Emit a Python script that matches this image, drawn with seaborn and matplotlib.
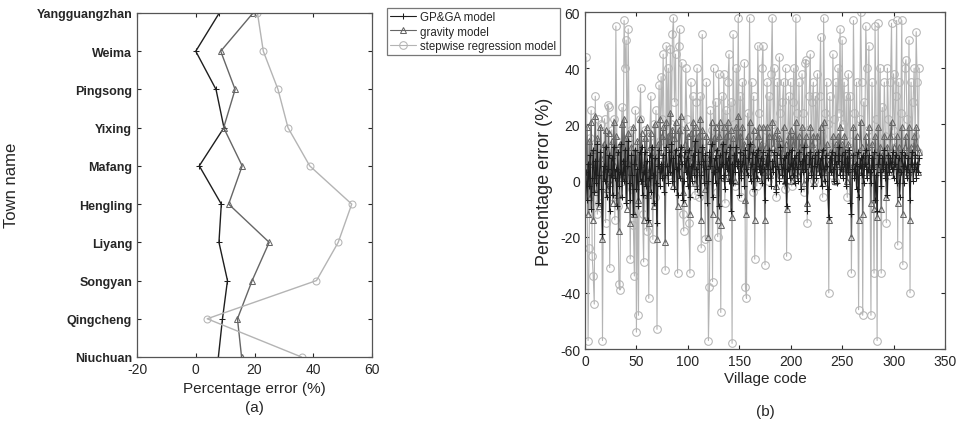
import numpy as np
import pandas as pd
import seaborn as sns
import matplotlib
matplotlib.use('Agg')
import matplotlib.pyplot as plt

# ---- panel (a): town level errors ----
towns = ['Yangguangzhan', 'Weima', 'Pingsong', 'Yixing', 'Mafang',
         'Hengling', 'Liyang', 'Songyan', 'Qingcheng', 'Niuchuan']
town_gpga = [8.0, 0.0, 6.9, 9.6, 1.2, 8.7, 7.9, 10.8, 9.1, 7.7]
town_gravity = [19.5, 8.5, 13.4, 9.5, 15.8, 11.2, 25.0, 19.2, 14.2, 15.6]
town_stepwise = [21.0, 23.0, 28.0, 31.4, 38.8, 53.1, 48.5, 41.1, 3.9, 36.0]

# ---- panel (b): village level errors ----
village_gpga = [
    3, -7, 6, -2, 9, -10, 1, 11, -4, 7, -1, 13, -8, 2, 10, -3, -19, 5, 0, 12, -6, 4, 9, -11, 2,
    8, -5, 12, 1, 4, -9, 10, -2, 3, 13, -6, 7, 0, 11, -8, 5, 14, -1, -7, 9, 2, -12, 6, 11, -3,
    4, -9, 10, 0, 12, -5, 3, 10, -2, 7, -14, 1, 9, -4, 12, 2, -8, 8, -1, -15, 5, 11, -2, 6, 1,
    9, -4, 2, 12, 5, -1, 10, 3, 13, 0, 8, -3, 11, 4, -5, 9, 1, 12, 6, -7, 0, 10, 3, 8, -2,
    11, -6, 5, 0, 9, 2, 14, 4, -3, 10, 6, -5, 2, 12, 7, -1, 9, 4, -8, 0, 10, 5, 13, -6, 3,
    8, -1, 11, 4, -9, 9, 1, 6, 13, 2, -3, 10, 4, 8, 0, 12, -11, 6, -1, 9, 3, 12, 5, 7, -5,
    10, 1, 6, 9, -2, 11, 4, 2, 8, 13, 0, 6, 10, -3, 4, 9, 1, 11, 5, 3, 8, -1, 10, 4, -7,
    6, 9, 1, 11, 4, -2, 7, 3, 10, 5, -4, 9, 4, 0, 12, 6, 2, 8, -1, 9, -9, 4, 10, 1, 6,
    11, 2, 8, -1, 9, 4, 0, 10, 6, -3, 7, 3, 12, 4, 9, -11, 1, 6, 10, 2, 8, -2, 5, 9, 1,
    6, 10, 2, 8, -2, 11, 4, 0, 9, 5, -3, -13, 8, 3, 10, 4, 0, 9, 6, -1, 7, 12, 2, 4, 9,
    1, 6, 10, -2, 8, 3, 11, -8, -12, 4, 9, 1, 6, -3, 10, -6, 5, 8, 2, 9, -1, 6, 11, 1, 4,
    9, 3, -1, 8, 4, 10, -7, 2, -11, 6, 9, 3, -2, 8, 4, 11, 1, 6, -5, 9, 3, 8, 4, 10, 1,
    6, 9, -1, 4, 8, -6, 3, 10, 5, -1, 9, 4, 1, 8, 3, -7, 6, 10, 0, 4, 9, 1, 6, 3, 8,
]
village_gravity = [
    3, 19, -12, 14, -6, 21, 6, -14, 11, 23, -4, 15, 2, -9, 19, 8, -21, 13, 4, 18, -3, 10, 17, -1, 8,
    14, -8, 21, 5, 16, 10, -5, -18, 13, 1, 20, 7, 22, 3, 15, -10, 17, 6, -15, 12, -2, 19, -12, 10, 5,
    14, -7, 22, 6, 17, 0, -14, 15, 4, 19, -5, -15, 12, 17, 2, 10, -9, 20, 7, -21, 13, 4, 22, 9, 16,
    19, 6, -22, 21, 12, 16, 3, 24, 10, 18, -2, 15, 21, 5, -9, 18, 12, 23, 8, -4, -8, 13, 19, 6, 16,
    2, -12, 17, 7, 21, 12, -1, 19, 10, 16, 4, 22, -14, 18, 11, 6, -3, 16, 5, -20, 8, 14, 21, -12, 15,
    10, 19, 4, -14, 16, 21, -16, 13, 6, 19, 1, 16, 9, 21, 12, 3, 18, -13, 15, 9, 0, 19, 7, 23, 11,
    16, 3, 19, 9, 13, -7, -12, 16, 6, 21, 9, 13, 2, 18, -14, 10, 1, 16, 19, 5, 13, 8, 19, 3, -14,
    12, 19, 5, 16, 2, 10, 21, 12, 16, 6, -2, 18, 9, 15, 12, 2, 10, 19, 0, 13, -10, 9, 16, 5, 18,
    0, 13, 16, 6, 21, 9, 2, 16, 12, 5, 19, 9, -1, 13, 16, -8, 9, 6, 19, 3, 13, 16, -1, 10, 6,
    16, 3, 10, 19, 6, -1, 21, 10, 3, 13, 6, -14, 10, 3, 7, 16, 9, 0, 13, 6, 16, 9, 19, 3, 13,
    6, 16, 3, 10, 0, 13, 6, 9, -20, 3, 19, 9, 5, 16, 3, -14, 9, 21, 12, -12, 9, 5, 16, 12, 6,
    19, 3, -8, 13, 6, -10, 16, 9, -13, 19, 6, 12, -10, 9, 3, 16, 6, -6, 12, 9, 3, 16, 21, 6, 12,
    5, 9, 16, -8, 12, 3, 9, 19, -12, 6, 12, 16, 9, 3, 19, -14, 12, 6, 9, 16, 6, 19, 12, 3, 10,
]
village_stepwise = [
    44, 8, -57, -24, 15, 25, -27, -34, -44, 30, 5, -12, 22, -8, 12, 20, -57, 2, 22, -15, 10, 27, 26, -31, 4,
    18, -6, 22, -14, 55, 14, -9, -37, -39, 10, 26, 0, 57, 40, 50, 6, 54, 15, -28, 18, -3, -16, -34, 25, -54,
    4, -48, 22, 33, 8, -12, -29, 18, 2, -18, 5, -42, 16, 30, 0, -21, 20, -6, 25, -53, 8, 34, 14, 37, 22,
    45, 12, -32, 48, 18, 40, 2, 47, 20, 52, 58, 28, 45, 10, -33, 48, 54, 18, 42, -12, -18, 10, 40, 22, 6,
    -15, -33, 35, 4, 30, 12, -5, 28, 40, 8, -6, 30, -24, 52, 14, 2, -21, 35, 0, -57, -38, 25, 18, -36, 40,
    10, 28, -4, -20, 38, 16, -47, 30, 6, 38, -8, 25, 2, 35, 45, 8, 28, -58, 52, 20, -2, 40, 14, 58, 6,
    30, -6, 35, 12, 42, -38, -42, 24, 4, 58, 12, 35, -4, 30, -28, 16, -2, 48, 24, 8, 2, 40, 48, 12, -30,
    18, 35, 0, 30, 10, 38, 58, 20, 40, 10, -6, 35, 14, 44, 24, 2, 28, 35, -3, 40, -27, 16, 30, 6, 35,
    -2, 28, 40, 12, 58, 24, 4, 35, 16, 6, 38, 24, -4, 42, 43, -15, 18, 30, 45, 8, 28, 35, 0, 30, 14,
    38, 6, 30, 51, 16, -6, 58, 24, 4, 35, 20, -40, 30, 12, 2, 45, 22, 0, 35, 14, 40, 24, 54, 10, 50,
    20, 35, 4, 30, -6, 38, 14, 30, -33, 6, 57, 24, 10, 35, 2, -46, 22, 60, 35, -48, 28, 12, 55, 40, 18,
    48, 6, -48, 35, 14, -33, 55, 22, -57, 56, 12, 40, -33, 26, 4, 35, 16, -15, 40, 22, 2, 35, 56, 18, 38,
    12, 30, 57, -23, 35, 6, 24, 57, -30, 14, 40, 43, 22, 4, 50, -40, 35, 12, 28, 40, 16, 53, 35, 10, 40,
]

c_gpga, c_grav, c_step = '#1e1e1e', '#666666', '#b4b4b4'

sns.set_style('white')
plt.rcParams['font.family'] = ['Liberation Sans', 'DejaVu Sans']
plt.rcParams['axes.unicode_minus'] = False
plt.rcParams['xtick.direction'] = 'in'
plt.rcParams['ytick.direction'] = 'in'

fig = plt.figure(figsize=(9.58, 4.27), dpi=100)
ax1 = fig.add_axes([137 / 958, 1 - 358 / 427, 235 / 958, 344 / 427])
ax2 = fig.add_axes([585 / 958, 1 - 350 / 427, 360 / 958, 337 / 427])

pos = np.arange(len(towns))
for vals, col, mk in [(town_gpga, c_gpga, '+'), (town_gravity, c_grav, '^'),
                      (town_stepwise, c_step, 'o')]:
    sns.lineplot(x=vals, y=pos, orient='y', color=col, marker=mk, markersize=5,
                 markerfacecolor='none', markeredgecolor=col, linewidth=1.0, ax=ax1)
ax1.set_xlim(-20, 60)
ax1.set_ylim(len(towns) - 1, 0)
ax1.set_xticks([-20, 0, 20, 40, 60])
ax1.set_yticks(pos)
ax1.set_yticklabels(towns, fontweight='bold', fontsize=9)
ax1.tick_params(axis='x', labelsize=10, length=3, top=True, bottom=True)
ax1.tick_params(axis='y', length=3, left=True, right=True)
ax1.set_xlabel('Percentage error (%)\n(a)', fontsize=11, labelpad=4, linespacing=1.45)
ax1.set_ylabel('')
fig.text(12 / 958, 1 - 185 / 427, 'Town name', rotation=90, fontsize=12,
         va='center', ha='center')

x_v = np.arange(1, len(village_stepwise) + 1)
sns.lineplot(x=x_v, y=village_stepwise, color=c_step, marker='o', markersize=5.5,
             markerfacecolor='none', markeredgecolor=c_step, linewidth=0.8,
             label='stepwise regression model', ax=ax2)
x_g = np.arange(1, len(village_gravity) + 1)
sns.lineplot(x=x_g, y=village_gravity, color=c_grav, marker='^', markersize=4.5,
             markerfacecolor='none', markeredgecolor=c_grav, linewidth=0.8,
             label='gravity model', ax=ax2)
x_p = np.arange(1, len(village_gpga) + 1)
sns.lineplot(x=x_p, y=village_gpga, color=c_gpga, marker='+', markersize=5,
             markeredgecolor=c_gpga, linewidth=0.8, label='GP&GA model', ax=ax2)
ax2.set_xlim(0, 350)
ax2.set_ylim(-60, 60)
ax2.set_xticks(range(0, 351, 50))
ax2.set_yticks(range(-60, 61, 20))
ax2.tick_params(axis='both', labelsize=10, length=3, top=True, right=True,
                bottom=True, left=True)
ax2.set_xlabel('Village code\n\n(b)', fontsize=11, labelpad=2, linespacing=1.25)
ax2.set_ylabel('Percentage error (%)', fontsize=13)
ax2.yaxis.set_label_coords(-0.088, 0.5)

for ax in (ax1, ax2):
    for sp in ax.spines.values():
        sp.set_color('#555555')
        sp.set_linewidth(0.9)

handles, labels = ax2.get_legend_handles_labels()
ax2.get_legend().remove()
order = [2, 1, 0]
leg = fig.legend([handles[i] for i in order], [labels[i] for i in order],
                 loc='upper left', bbox_to_anchor=(381 / 958, 1 - 3 / 427),
                 fontsize=8.3, frameon=True, fancybox=False, handlelength=2.2,
                 borderpad=0.3, labelspacing=0.2, handletextpad=0.4)
leg.get_frame().set_edgecolor('#555555')
leg.get_frame().set_linewidth(0.9)

fig.savefig('out.png', dpi=100)
